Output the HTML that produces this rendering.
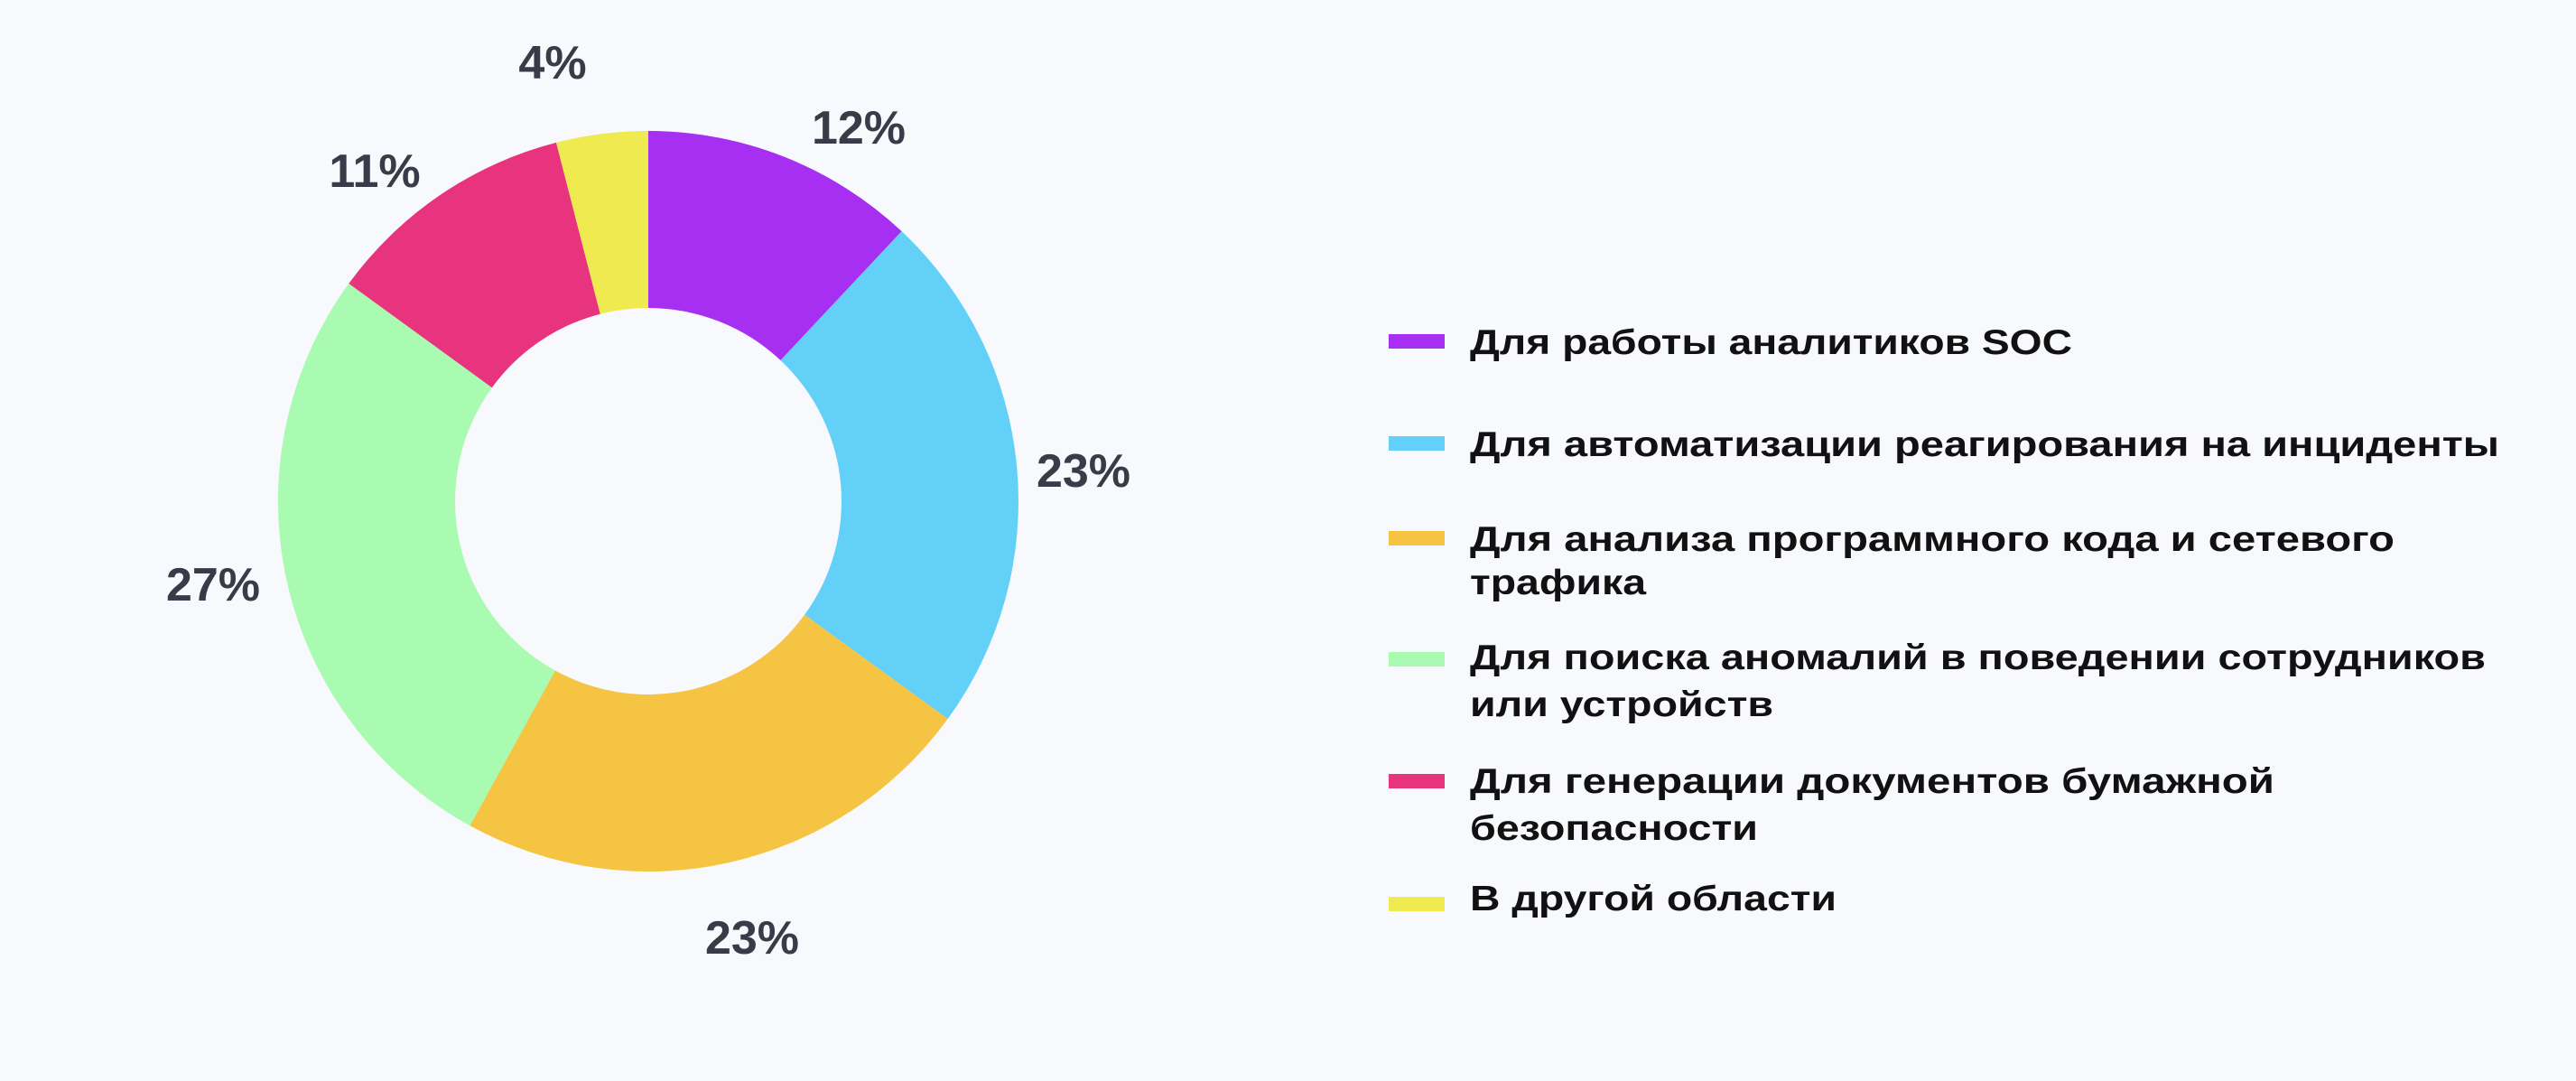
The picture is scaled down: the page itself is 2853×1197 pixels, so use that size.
<!DOCTYPE html>
<html><head><meta charset="utf-8"><style>
html,body{margin:0;padding:0;background:#f7f9fc;}
svg{display:block;}
.p{font-family:"Liberation Sans",sans-serif;font-weight:bold;font-size:52px;fill:#3b3a48;}
.l{font-family:"Liberation Sans",sans-serif;font-weight:bold;font-size:39px;fill:#111;}
</style></head><body>
<svg width="2853" height="1197" viewBox="0 0 2853 1197" xmlns="http://www.w3.org/2000/svg">
<rect width="2853" height="1197" fill="#f7f9fc"/>
<path d="M718,145 A410,410 0 0 1 998.6,256.1 L864.5,399 A214,214 0 0 0 718,341 Z" fill="#a62ff2"/>
<path d="M998.6,256.1 A410,410 0 0 1 1049.7,796 L891.1,680.8 A214,214 0 0 0 864.5,399 Z" fill="#63d0f8"/>
<path d="M1049.7,796 A410,410 0 0 1 520.5,914.3 L614.9,742.5 A214,214 0 0 0 891.1,680.8 Z" fill="#f5c443"/>
<path d="M520.5,914.3 A410,410 0 0 1 386.3,314 L544.9,429.2 A214,214 0 0 0 614.9,742.5 Z" fill="#a8fbb0"/>
<path d="M386.3,314 A410,410 0 0 1 616,157.9 L664.8,347.7 A214,214 0 0 0 544.9,429.2 Z" fill="#e8337e"/>
<path d="M616,157.9 A410,410 0 0 1 718,145 L718,341 A214,214 0 0 0 664.8,347.7 Z" fill="#eeea50"/>
<g class="p" text-anchor="middle">
<text x="612" y="87">4%</text>
<text x="951" y="159">12%</text>
<text x="415" y="207">11%</text>
<text x="1200" y="539">23%</text>
<text x="236" y="665">27%</text>
<text x="833" y="1056">23%</text>
</g>
<rect x="1538" y="370" width="62" height="16" fill="#a62ff2"/>
<rect x="1538" y="483" width="62" height="16" fill="#63d0f8"/>
<rect x="1538" y="588" width="62" height="16" fill="#f5c443"/>
<rect x="1538" y="722" width="62" height="16" fill="#a8fbb0"/>
<rect x="1538" y="857" width="62" height="16" fill="#e8337e"/>
<rect x="1538" y="993" width="62" height="16" fill="#eeea50"/>
<g class="l">
<text x="1628" y="392" textLength="667" lengthAdjust="spacingAndGlyphs">Для работы аналитиков SOC</text>
<text x="1628" y="505" textLength="1140" lengthAdjust="spacingAndGlyphs">Для автоматизации реагирования на инциденты</text>
<text x="1628" y="610" textLength="1024" lengthAdjust="spacingAndGlyphs">Для анализа программного кода и сетевого</text>
<text x="1628" y="658" textLength="195" lengthAdjust="spacingAndGlyphs">трафика</text>
<text x="1628" y="741" textLength="1125" lengthAdjust="spacingAndGlyphs">Для поиска аномалий в поведении сотрудников</text>
<text x="1628" y="793" textLength="336" lengthAdjust="spacingAndGlyphs">или устройств</text>
<text x="1628" y="878" textLength="891" lengthAdjust="spacingAndGlyphs">Для генерации документов бумажной</text>
<text x="1628" y="930" textLength="319" lengthAdjust="spacingAndGlyphs">безопасности</text>
<text x="1628" y="1008" textLength="406" lengthAdjust="spacingAndGlyphs">В другой области</text>
</g>
</svg>
</body></html>
